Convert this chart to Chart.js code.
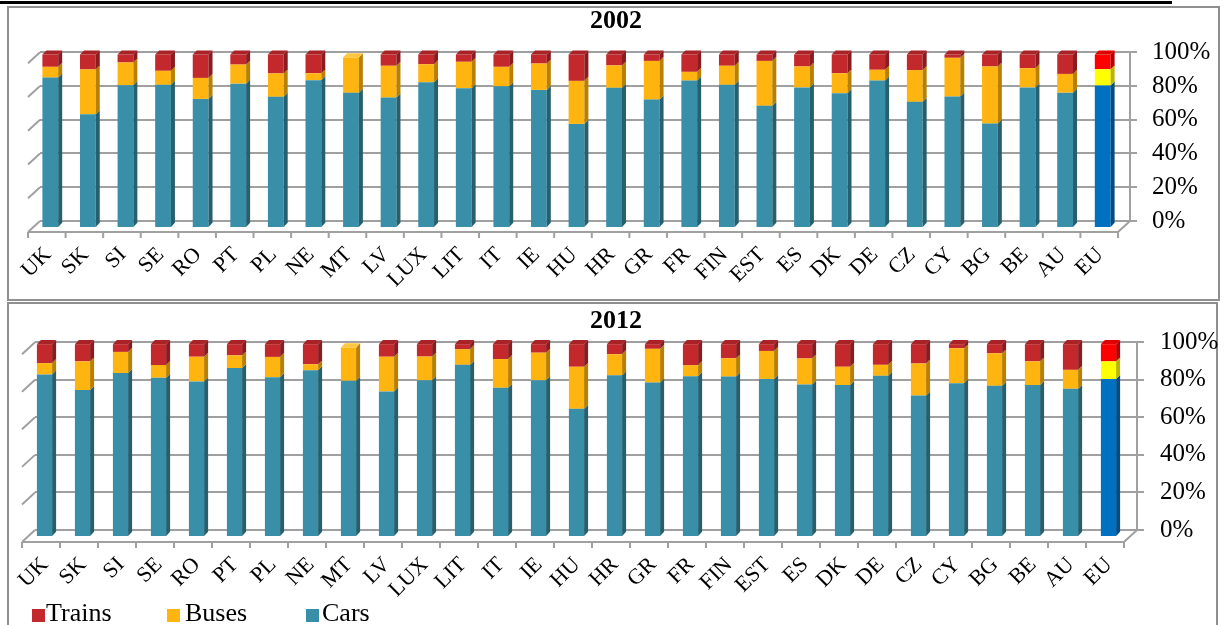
<!DOCTYPE html>
<html>
<head>
<meta charset="utf-8">
<script src="https://cdn.jsdelivr.net/npm/chart.js@4.4.1/dist/chart.umd.min.js"></script>
<style>
  html, body { margin: 0; padding: 0; background: #fff; }
  body { width: 1224px; height: 625px; overflow: hidden; position: relative;
         font-family: "Liberation Serif", "Times New Roman", serif; }
  .rule { position: absolute; left: 0; top: 1px; width: 1172px; height: 3px; background: #000; }
  .panel { position: absolute; border: 2px solid #8f8f8f; box-sizing: border-box; }
  #p1 { left: 7px; top: 6px; width: 1213px; height: 295px; }
  #p2 { left: 7px; top: 302px; width: 1211px; height: 340px; }
  canvas { position: absolute; left: 0; }
  #c1 { top: 0; }
  #c2 { top: 300px; }
  .sw { position: absolute; top: 609px; width: 13px; height: 13px; }
  .lt { position: absolute; top: 600px; font-size: 26px; line-height: 26px; color: #000; white-space: nowrap; }
</style>
</head>
<body>
<div class="rule"></div>
<div class="panel" id="p1"></div>
<div class="panel" id="p2"></div>
<canvas id="c1" width="1224" height="300"></canvas>
<canvas id="c2" width="1224" height="325"></canvas>
<div id="legend"></div>
<script>
// Countries (EU average last)
const countries = ['UK','SK','SI','SE','RO','PT','PL','NE','MT','LV','LUX','LIT','IT','IE','HU',
                   'HR','GR','FR','FIN','EST','ES','DK','DE','CZ','CY','BG','BE','AU','EU'];

// Modal split of passenger transport, % of passenger-km, 2002
const cars2002   = [86.7,65.6,82.3,82.5,74.4,83.2,75.6,85.2,77.9,75.2,84.0,80.6,81.7,79.6,60.0,
                    80.8,74.0,85.0,82.5,70.4,81.0,77.7,85.0,72.7,75.8,60.2,81.0,78.0,82.1];
const buses2002  = [ 6.2,25.8,13.1, 8.1,12.1,11.0,13.5, 4.0,20.4,18.3,10.4,15.2,11.2,15.2,24.8,
                    12.9,22.3, 5.0,11.0,25.9,12.1,11.5, 6.2,18.3,22.3,32.9,11.1,10.8, 9.4];
const trains2002 = [ 7.1, 8.6, 4.6, 9.4,13.5, 5.8,10.9,10.8, 0.0, 6.5, 5.6, 4.2, 7.1, 5.2,15.2,
                     6.3, 3.7,10.0, 6.5, 3.7, 6.9,10.8, 8.8, 9.0, 1.9, 6.9, 7.9,11.2, 8.5];

// Modal split of passenger transport, % of passenger-km, 2012
const cars2012   = [84.3,76.2,85.0,82.6,80.7,87.6,82.9,86.5,81.0,75.5,81.3,89.3,77.4,81.3,66.5,
                    83.9,80.1,83.4,83.2,82.0,79.1,78.8,83.6,73.4,79.8,78.4,78.8,76.9,81.9];
const buses2012  = [ 5.9,14.9,11.0, 6.6,12.8, 6.6,10.5, 3.1,17.3,18.0,12.3, 8.1,14.9,14.3,21.8,
                    10.9,17.5, 5.7, 9.5,14.5,13.5, 9.5, 5.7,16.6,18.1,16.9,12.3, 9.8, 9.2];
const trains2012 = [ 9.8, 8.9, 4.0,10.8, 6.5, 5.8, 6.6,10.4, 0.0, 6.5, 6.4, 2.6, 7.7, 4.4,11.7,
                     5.2, 2.4,10.9, 7.3, 3.5, 7.4,11.7,10.7,10.0, 2.1, 4.7, 8.9,13.3, 8.9];

const yTickLabels = ['0%', '20%', '40%', '60%', '80%', '100%'];
const seriesNames = ['Cars', 'Buses', 'Trains'];

// front / side / top shades per mode, plus the EU highlight shades
const palette = {
  Cars:   { front: '#3A8FA8', side: '#26606F', top: '#4FA3BB', euFront: '#0070C0', euSide: '#004C85', euTop: '#1C86D0' },
  Buses:  { front: '#FFB40F', side: '#B88000', top: '#FFC640', euFront: '#FFFF00', euSide: '#B8B800', euTop: '#FFFF66' },
  Trains: { front: '#C3282C', side: '#8A1B1E', top: '#A82226', euFront: '#FF0000', euSide: '#B80000', euTop: '#E00000' }
};
const EU_INDEX = countries.indexOf('EU');
const SERIF = '"Liberation Serif", "Times New Roman", serif';
Chart.defaults.font.family = SERIF;

// Draws the wall edges, floor and tick marks, then offsets the bars
// forward so they stand in front of the back wall, with side and top faces.
const depth3d = {
  id: 'depth3d',
  beforeDatasetsDraw(chart, args, o) {
    const { ctx, chartArea: a, scales } = chart;
    const yS = scales.y;
    ctx.save();
    ctx.strokeStyle = o.lineColor;
    ctx.lineWidth = o.lineWidth;
    ctx.beginPath();
    yS.ticks.forEach(t => {
      const y = yS.getPixelForValue(t.value);
      ctx.moveTo(a.left, y);
      ctx.lineTo(a.left - o.wallDx, y + o.wallDy);
    });
    const fy = a.bottom + o.wallDy;
    ctx.moveTo(a.left - o.wallDx, fy);
    ctx.lineTo(a.right - o.wallDx, fy);
    ctx.moveTo(a.right, a.bottom);
    ctx.lineTo(a.right - o.wallDx, fy);
    const n = chart.data.labels.length;
    const step = (a.right - a.left) / n;
    for (let i = 0; i <= n; i++) {
      const x = a.left + i * step - o.wallDx;
      ctx.moveTo(x, fy);
      ctx.lineTo(x, fy + o.tick);
    }
    ctx.stroke();
    ctx.restore();

    const B = a.bottom, T = a.top;
    const Bf = B + o.frontBottom, Tf = T + o.frontTop;
    const k = (Bf - Tf) / (B - T);
    ctx.save();
    ctx.translate(o.shiftX, Bf);
    ctx.scale(1, k);
    ctx.translate(0, -B);
  },
  afterDatasetsDraw(chart, args, o) {
    const { ctx } = chart;
    const d = o.barDepth;
    const metas = chart.data.datasets.map((ds, i) => chart.getDatasetMeta(i));
    metas.forEach((meta, di) => {
      const ds = chart.data.datasets[di];
      meta.data.forEach((el, i) => {
        const { x, y, base, width } = el.getProps(['x', 'y', 'base', 'width'], true);
        if (Math.abs(base - y) < 0.5) return;
        const xr = x + width / 2;
        ctx.fillStyle = i === EU_INDEX ? ds.shades.euSide : ds.shades.side;
        ctx.beginPath();
        ctx.moveTo(xr, y);
        ctx.lineTo(xr + d, y - d);
        ctx.lineTo(xr + d, base - d);
        ctx.lineTo(xr, base);
        ctx.closePath();
        ctx.fill();
      });
    });
    // top face on the highest non-empty segment of each stack
    countries.forEach((c, i) => {
      let topDi = -1;
      chart.data.datasets.forEach((ds, di) => { if (ds.data[i] > 0) topDi = di; });
      if (topDi < 0) return;
      const ds = chart.data.datasets[topDi];
      const el = metas[topDi].data[i];
      const { x, y, width } = el.getProps(['x', 'y', 'width'], true);
      const xl = x - width / 2, xr = x + width / 2;
      ctx.fillStyle = i === EU_INDEX ? ds.shades.euTop : ds.shades.top;
      ctx.beginPath();
      ctx.moveTo(xl, y);
      ctx.lineTo(xl + d, y - d);
      ctx.lineTo(xr + d, y - d);
      ctx.lineTo(xr, y);
      ctx.closePath();
      ctx.fill();
    });
    ctx.restore();
  }
};

function makeDataset(name, values, barPct) {
  const shades = palette[name];
  return {
    label: name,
    data: values,
    xAxisID: 'x',
    yAxisID: 'y',
    shades: shades,
    backgroundColor: (c) => (c.dataIndex === EU_INDEX ? shades.euFront : shades.front),
    borderWidth: 0,
    barPercentage: barPct,
    categoryPercentage: 1,
    clip: false
  };
}

function makeChart(canvasId, year, cars, buses, trains, geo) {
  return new Chart(document.getElementById(canvasId), {
    type: 'bar',
    data: {
      labels: countries,
      datasets: [
        makeDataset(seriesNames[0], cars, geo.barPct),
        makeDataset(seriesNames[1], buses, geo.barPct),
        makeDataset(seriesNames[2], trains, geo.barPct)
      ]
    },
    options: {
      responsive: false,
      animation: false,
      events: [],
      layout: { padding: { left: 8, right: 0, top: 5, bottom: 0 } },
      plugins: {
        legend: { display: false },
        tooltip: { enabled: false },
        title: {
          display: true,
          text: year,
          color: '#000',
          font: { family: SERIF, size: 26, weight: 'bold' },
          padding: { top: 1, bottom: geo.titleGap }
        },
        depth3d: {
          lineColor: '#a0a0a0', lineWidth: 2,
          wallDx: geo.wallDx, wallDy: geo.wallDy, tick: 6,
          shiftX: geo.shiftX, frontTop: geo.frontTop, frontBottom: geo.frontBottom,
          barDepth: 4
        }
      },
      scales: {
        x: {
          stacked: true,
          grid: { display: false, drawTicks: false },
          border: { display: false },
          ticks: {
            autoSkip: false, minRotation: 45, maxRotation: 45,
            labelOffset: geo.labelOffset, padding: geo.labelPad,
            color: '#000', font: { family: SERIF, size: 22 }
          },
          afterCalculateLabelRotation: (s) => { s.labelRotation = 45; },
          afterFit: (s) => { s.height = geo.xHeight; }
        },
        y: {
          stacked: true,
          position: 'right',
          min: 0, max: 100,
          grid: { color: '#a0a0a0', lineWidth: 2, tickLength: 7, drawTicks: true },
          border: { display: true, color: '#a0a0a0', width: 2 },
          ticks: {
            stepSize: 20, padding: geo.yPad,
            color: '#000', font: { family: SERIF, size: 25 },
            callback: (v, i) => yTickLabels[i]
          },
          afterFit: (s) => { s.width = geo.yWidth; }
        },
        // blank margin on the left so the title sits over the whole panel
        side: {
          type: 'linear',
          axis: 'y',
          position: 'left',
          grid: { display: false, drawTicks: false },
          border: { display: false },
          ticks: { display: false },
          afterFit: (s) => { s.width = geo.left - 8; }
        }
      }
    },
    plugins: [depth3d]
  });
}

makeChart('c1', '2002', cars2002, buses2002, trains2002, {
  left: 40, yWidth: 94, yPad: 15, xHeight: 79, titleGap: 15,
  wallDx: 12, wallDy: 11, shiftX: -8.5, frontTop: 2.3, frontBottom: 7,
  labelOffset: -11, labelPad: 21, barPct: 0.42
});

makeChart('c2', '2012', cars2012, buses2012, trains2012, {
  left: 35, yWidth: 87, yPad: 16, xHeight: 95, titleGap: 5,
  wallDx: 13, wallDy: 12, shiftX: -9.5, frontTop: 2, frontBottom: 7,
  labelOffset: -9, labelPad: 22, barPct: 0.4
});

// Legend (Trains, Buses, Cars)
const legendPos = { Trains: [32, 46], Buses: [167, 185], Cars: [306, 322] };
const lg = document.getElementById('legend');
seriesNames.slice().reverse().forEach(name => {
  const [bx, tx] = legendPos[name];
  const sw = document.createElement('div');
  sw.className = 'sw';
  sw.style.left = bx + 'px';
  sw.style.background = palette[name].front;
  const t = document.createElement('div');
  t.className = 'lt';
  t.style.left = tx + 'px';
  t.textContent = name;
  lg.appendChild(sw);
  lg.appendChild(t);
});
</script>
</body>
</html>
